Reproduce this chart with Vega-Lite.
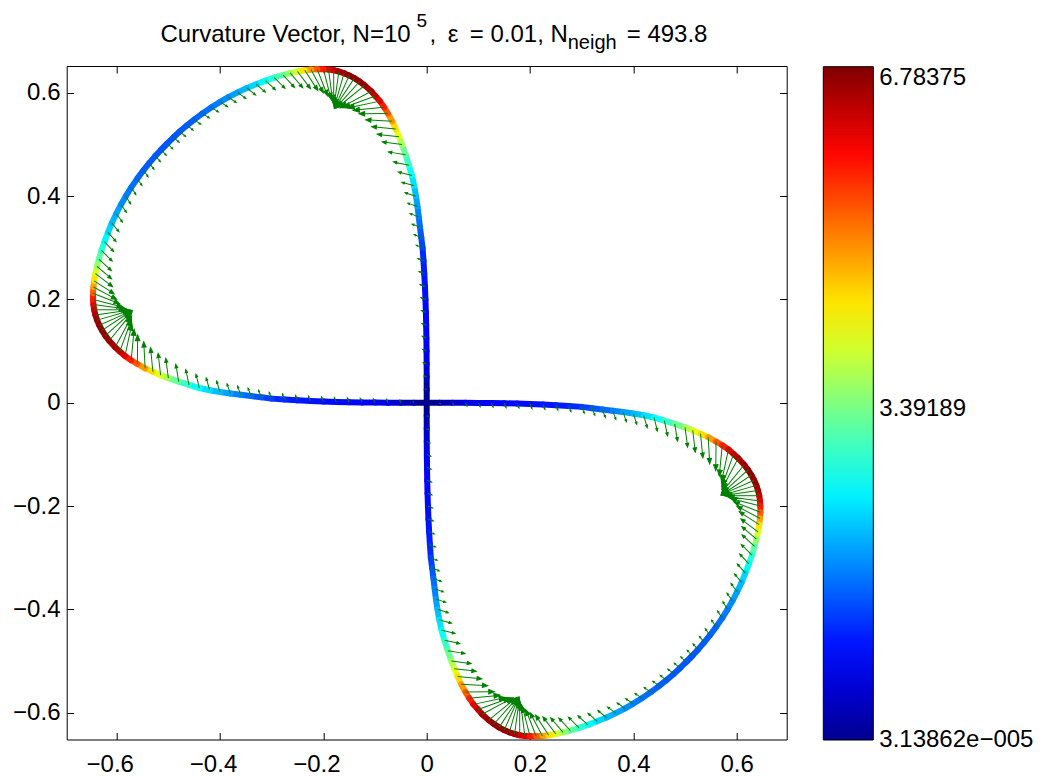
{
"$schema": "https://vega.github.io/schema/vega-lite/v6.json",
"width": 720, "height": 673.5,
"autosize": {"type": "none"},
"padding": {"left": 66.7, "top": 66, "right": 258.3, "bottom": 38.5},
"background": "white",
"config": {"view": {"stroke": null}, "font": "Liberation Sans"},
"data": {"values": [
{"x":0,"y":0,"x2":0,"y2":0.025,"k":0,"a":295},
{"x":0,"y":0.025,"x2":-0.00004,"y2":0.05,"k":0.25,"a":295},
{"x":-0.00004,"y":0.05,"x2":-0.0001,"y2":0.075,"k":0.5,"a":294.9},
{"x":-0.0001,"y":0.075,"x2":-0.0003,"y2":0.1,"k":0.7,"a":294.7},
{"x":-0.0003,"y":0.1,"x2":-0.0006,"y2":0.125,"k":0.82,"a":294.5},
{"x":-0.0006,"y":0.125,"x2":-0.001,"y2":0.15,"k":0.88,"a":294.2},
{"x":-0.001,"y":0.15,"x2":-0.0016,"y2":0.175,"k":0.9,"a":293.8},
{"x":-0.0016,"y":0.175,"x2":-0.0024,"y2":0.2,"k":0.92,"a":293.4},
{"x":-0.0024,"y":0.2,"x2":-0.0034,"y2":0.225,"k":0.95,"a":292.9},
{"x":-0.0034,"y":0.225,"x2":-0.0047,"y2":0.25,"k":1,"a":292.4},
{"x":-0.0047,"y":0.25,"x2":-0.0062,"y2":0.275,"k":1.05,"a":291.8},
{"x":-0.0062,"y":0.275,"x2":-0.008,"y2":0.3,"k":1.15,"a":291.5},
{"x":-0.008,"y":0.3,"x2":-0.0105,"y2":0.32,"k":1.3,"a":292},
{"x":-0.0105,"y":0.32,"x2":-0.013,"y2":0.34,"k":1.45,"a":291.8},
{"x":-0.013,"y":0.34,"x2":-0.0154,"y2":0.36,"k":1.6,"a":290.8},
{"x":-0.0154,"y":0.36,"x2":-0.0178,"y2":0.38,"k":1.75,"a":290},
{"x":-0.0178,"y":0.38,"x2":-0.0208,"y2":0.4,"k":1.95,"a":289},
{"x":-0.0208,"y":0.4,"x2":-0.0243,"y2":0.42,"k":2.15,"a":287.7},
{"x":-0.0243,"y":0.42,"x2":-0.0285,"y2":0.44,"k":2.4,"a":286},
{"x":-0.0285,"y":0.44,"x2":-0.0345,"y2":0.46,"k":2.65,"a":284},
{"x":-0.0345,"y":0.46,"x2":-0.0408,"y2":0.48,"k":2.95,"a":282},
{"x":-0.0408,"y":0.48,"x2":-0.0478,"y2":0.5,"k":3.3,"a":279.5},
{"x":-0.0478,"y":0.5,"x2":-0.0533,"y2":0.515,"k":3.75,"a":277.5},
{"x":-0.0533,"y":0.515,"x2":-0.06,"y2":0.53,"k":4.15,"a":276.5},
{"x":-0.06,"y":0.53,"x2":-0.0667,"y2":0.545,"k":4.55,"a":275.5},
{"x":-0.0667,"y":0.545,"x2":-0.0751,"y2":0.56,"k":5,"a":273},
{"x":-0.0751,"y":0.56,"x2":-0.0823,"y2":0.572,"k":5.45,"a":269.5},
{"x":-0.0823,"y":0.572,"x2":-0.0905,"y2":0.584,"k":5.85,"a":264.5},
{"x":-0.0905,"y":0.584,"x2":-0.0994,"y2":0.594,"k":6.2,"a":258},
{"x":-0.0994,"y":0.594,"x2":-0.1073,"y2":0.603,"k":6.45,"a":250},
{"x":-0.1073,"y":0.603,"x2":-0.12,"y2":0.6145,"k":6.6,"a":242},
{"x":-0.12,"y":0.6145,"x2":-0.13,"y2":0.622,"k":6.72,"a":231},
{"x":-0.13,"y":0.622,"x2":-0.14,"y2":0.6285,"k":6.78,"a":222},
{"x":-0.14,"y":0.6285,"x2":-0.15,"y2":0.6338,"k":6.78,"a":213.5},
{"x":-0.15,"y":0.6338,"x2":-0.16,"y2":0.6381,"k":6.75,"a":204},
{"x":-0.16,"y":0.6381,"x2":-0.17,"y2":0.6413,"k":6.7,"a":196},
{"x":-0.17,"y":0.6413,"x2":-0.18,"y2":0.6437,"k":6.6,"a":188},
{"x":-0.18,"y":0.6437,"x2":-0.19,"y2":0.6451,"k":6.4,"a":180},
{"x":-0.19,"y":0.6451,"x2":-0.2,"y2":0.6458,"k":6.15,"a":172.5},
{"x":-0.2,"y":0.6458,"x2":-0.212,"y2":0.6458,"k":5.85,"a":165.5},
{"x":-0.212,"y":0.6458,"x2":-0.224,"y2":0.6451,"k":5.4,"a":158.5},
{"x":-0.224,"y":0.6451,"x2":-0.236,"y2":0.6437,"k":4.95,"a":152},
{"x":-0.236,"y":0.6437,"x2":-0.25,"y2":0.6413,"k":4.5,"a":147},
{"x":-0.25,"y":0.6413,"x2":-0.264,"y2":0.6382,"k":4.05,"a":143},
{"x":-0.264,"y":0.6382,"x2":-0.278,"y2":0.6346,"k":3.6,"a":139.5},
{"x":-0.278,"y":0.6346,"x2":-0.295,"y2":0.6295,"k":3.2,"a":137.5},
{"x":-0.295,"y":0.6295,"x2":-0.312,"y2":0.6237,"k":2.85,"a":135},
{"x":-0.312,"y":0.6237,"x2":-0.33,"y2":0.6168,"k":2.55,"a":133},
{"x":-0.33,"y":0.6168,"x2":-0.348,"y2":0.6094,"k":2.3,"a":131},
{"x":-0.348,"y":0.6094,"x2":-0.366,"y2":0.6009,"k":2.1,"a":129},
{"x":-0.366,"y":0.6009,"x2":-0.384,"y2":0.5916,"k":1.95,"a":126.5},
{"x":-0.384,"y":0.5916,"x2":-0.4,"y2":0.5824,"k":1.8,"a":124},
{"x":-0.4,"y":0.5824,"x2":-0.417,"y2":0.5719,"k":1.7,"a":122},
{"x":-0.417,"y":0.5719,"x2":-0.434,"y2":0.5602,"k":1.62,"a":122.5},
{"x":-0.434,"y":0.5602,"x2":-0.45,"y2":0.5483,"k":1.55,"a":124},
{"x":-0.45,"y":0.5483,"x2":-0.464,"y2":0.5371,"k":1.5,"a":126},
{"x":-0.464,"y":0.5371,"x2":-0.478,"y2":0.5251,"k":1.47,"a":128},
{"x":-0.478,"y":0.5251,"x2":-0.49,"y2":0.514,"k":1.45,"a":130},
{"x":-0.49,"y":0.514,"x2":-0.502,"y2":0.502,"k":1.43,"a":132},
{"x":-0.502,"y":0.502,"x2":-0.514,"y2":0.49,"k":1.42,"a":135},
{"x":0,"y":0,"x2":-0.025,"y2":0,"k":0,"a":335},
{"x":-0.025,"y":0,"x2":-0.05,"y2":0.00004,"k":0.25,"a":335},
{"x":-0.05,"y":0.00004,"x2":-0.075,"y2":0.0001,"k":0.5,"a":335.1},
{"x":-0.075,"y":0.0001,"x2":-0.1,"y2":0.0003,"k":0.7,"a":335.3},
{"x":-0.1,"y":0.0003,"x2":-0.125,"y2":0.0006,"k":0.82,"a":335.5},
{"x":-0.125,"y":0.0006,"x2":-0.15,"y2":0.001,"k":0.88,"a":335.8},
{"x":-0.15,"y":0.001,"x2":-0.175,"y2":0.0016,"k":0.9,"a":336.2},
{"x":-0.175,"y":0.0016,"x2":-0.2,"y2":0.0024,"k":0.92,"a":336.6},
{"x":-0.2,"y":0.0024,"x2":-0.225,"y2":0.0034,"k":0.95,"a":337.1},
{"x":-0.225,"y":0.0034,"x2":-0.25,"y2":0.0047,"k":1,"a":337.6},
{"x":-0.25,"y":0.0047,"x2":-0.275,"y2":0.0062,"k":1.05,"a":338.2},
{"x":-0.275,"y":0.0062,"x2":-0.3,"y2":0.008,"k":1.15,"a":338.5},
{"x":-0.3,"y":0.008,"x2":-0.32,"y2":0.0105,"k":1.3,"a":338},
{"x":-0.32,"y":0.0105,"x2":-0.34,"y2":0.013,"k":1.45,"a":338.2},
{"x":-0.34,"y":0.013,"x2":-0.36,"y2":0.0154,"k":1.6,"a":339.2},
{"x":-0.36,"y":0.0154,"x2":-0.38,"y2":0.0178,"k":1.75,"a":340},
{"x":-0.38,"y":0.0178,"x2":-0.4,"y2":0.0208,"k":1.95,"a":341},
{"x":-0.4,"y":0.0208,"x2":-0.42,"y2":0.0243,"k":2.15,"a":342.3},
{"x":-0.42,"y":0.0243,"x2":-0.44,"y2":0.0285,"k":2.4,"a":344},
{"x":-0.44,"y":0.0285,"x2":-0.46,"y2":0.0345,"k":2.65,"a":346},
{"x":-0.46,"y":0.0345,"x2":-0.48,"y2":0.0408,"k":2.95,"a":348},
{"x":-0.48,"y":0.0408,"x2":-0.5,"y2":0.0478,"k":3.3,"a":350.5},
{"x":-0.5,"y":0.0478,"x2":-0.515,"y2":0.0533,"k":3.75,"a":352.5},
{"x":-0.515,"y":0.0533,"x2":-0.53,"y2":0.06,"k":4.15,"a":353.5},
{"x":-0.53,"y":0.06,"x2":-0.545,"y2":0.0667,"k":4.55,"a":354.5},
{"x":-0.545,"y":0.0667,"x2":-0.56,"y2":0.0751,"k":5,"a":357},
{"x":-0.56,"y":0.0751,"x2":-0.572,"y2":0.0823,"k":5.45,"a":0.5},
{"x":-0.572,"y":0.0823,"x2":-0.584,"y2":0.0905,"k":5.85,"a":5.5},
{"x":-0.584,"y":0.0905,"x2":-0.594,"y2":0.0994,"k":6.2,"a":12},
{"x":-0.594,"y":0.0994,"x2":-0.603,"y2":0.1073,"k":6.45,"a":20},
{"x":-0.603,"y":0.1073,"x2":-0.6145,"y2":0.12,"k":6.6,"a":28},
{"x":-0.6145,"y":0.12,"x2":-0.622,"y2":0.13,"k":6.72,"a":39},
{"x":-0.622,"y":0.13,"x2":-0.6285,"y2":0.14,"k":6.78,"a":48},
{"x":-0.6285,"y":0.14,"x2":-0.6338,"y2":0.15,"k":6.78,"a":56.5},
{"x":-0.6338,"y":0.15,"x2":-0.6381,"y2":0.16,"k":6.75,"a":66},
{"x":-0.6381,"y":0.16,"x2":-0.6413,"y2":0.17,"k":6.7,"a":74},
{"x":-0.6413,"y":0.17,"x2":-0.6437,"y2":0.18,"k":6.6,"a":82},
{"x":-0.6437,"y":0.18,"x2":-0.6451,"y2":0.19,"k":6.4,"a":90},
{"x":-0.6451,"y":0.19,"x2":-0.6458,"y2":0.2,"k":6.15,"a":97.5},
{"x":-0.6458,"y":0.2,"x2":-0.6458,"y2":0.212,"k":5.85,"a":104.5},
{"x":-0.6458,"y":0.212,"x2":-0.6451,"y2":0.224,"k":5.4,"a":111.5},
{"x":-0.6451,"y":0.224,"x2":-0.6437,"y2":0.236,"k":4.95,"a":118},
{"x":-0.6437,"y":0.236,"x2":-0.6413,"y2":0.25,"k":4.5,"a":123},
{"x":-0.6413,"y":0.25,"x2":-0.6382,"y2":0.264,"k":4.05,"a":127},
{"x":-0.6382,"y":0.264,"x2":-0.6346,"y2":0.278,"k":3.6,"a":130.5},
{"x":-0.6346,"y":0.278,"x2":-0.6295,"y2":0.295,"k":3.2,"a":132.5},
{"x":-0.6295,"y":0.295,"x2":-0.6237,"y2":0.312,"k":2.85,"a":135},
{"x":-0.6237,"y":0.312,"x2":-0.6168,"y2":0.33,"k":2.55,"a":137},
{"x":-0.6168,"y":0.33,"x2":-0.6094,"y2":0.348,"k":2.3,"a":139},
{"x":-0.6094,"y":0.348,"x2":-0.6009,"y2":0.366,"k":2.1,"a":141},
{"x":-0.6009,"y":0.366,"x2":-0.5916,"y2":0.384,"k":1.95,"a":143.5},
{"x":-0.5916,"y":0.384,"x2":-0.5824,"y2":0.4,"k":1.8,"a":146},
{"x":-0.5824,"y":0.4,"x2":-0.5719,"y2":0.417,"k":1.7,"a":148},
{"x":-0.5719,"y":0.417,"x2":-0.5602,"y2":0.434,"k":1.62,"a":147.5},
{"x":-0.5602,"y":0.434,"x2":-0.5483,"y2":0.45,"k":1.55,"a":146},
{"x":-0.5483,"y":0.45,"x2":-0.5371,"y2":0.464,"k":1.5,"a":144},
{"x":-0.5371,"y":0.464,"x2":-0.5251,"y2":0.478,"k":1.47,"a":142},
{"x":-0.5251,"y":0.478,"x2":-0.514,"y2":0.49,"k":1.45,"a":140},
{"x":-0.514,"y":0.49,"x2":-0.502,"y2":0.502,"k":1.43,"a":138},
{"x":0,"y":0,"x2":0,"y2":-0.025,"k":0,"a":115},
{"x":0,"y":-0.025,"x2":0.00004,"y2":-0.05,"k":0.25,"a":115},
{"x":0.00004,"y":-0.05,"x2":0.0001,"y2":-0.075,"k":0.5,"a":114.9},
{"x":0.0001,"y":-0.075,"x2":0.0003,"y2":-0.1,"k":0.7,"a":114.7},
{"x":0.0003,"y":-0.1,"x2":0.0006,"y2":-0.125,"k":0.82,"a":114.5},
{"x":0.0006,"y":-0.125,"x2":0.001,"y2":-0.15,"k":0.88,"a":114.2},
{"x":0.001,"y":-0.15,"x2":0.0016,"y2":-0.175,"k":0.9,"a":113.8},
{"x":0.0016,"y":-0.175,"x2":0.0024,"y2":-0.2,"k":0.92,"a":113.4},
{"x":0.0024,"y":-0.2,"x2":0.0034,"y2":-0.225,"k":0.95,"a":112.9},
{"x":0.0034,"y":-0.225,"x2":0.0047,"y2":-0.25,"k":1,"a":112.4},
{"x":0.0047,"y":-0.25,"x2":0.0062,"y2":-0.275,"k":1.05,"a":111.8},
{"x":0.0062,"y":-0.275,"x2":0.008,"y2":-0.3,"k":1.15,"a":111.5},
{"x":0.008,"y":-0.3,"x2":0.0105,"y2":-0.32,"k":1.3,"a":112},
{"x":0.0105,"y":-0.32,"x2":0.013,"y2":-0.34,"k":1.45,"a":111.8},
{"x":0.013,"y":-0.34,"x2":0.0154,"y2":-0.36,"k":1.6,"a":110.8},
{"x":0.0154,"y":-0.36,"x2":0.0178,"y2":-0.38,"k":1.75,"a":110},
{"x":0.0178,"y":-0.38,"x2":0.0208,"y2":-0.4,"k":1.95,"a":109},
{"x":0.0208,"y":-0.4,"x2":0.0243,"y2":-0.42,"k":2.15,"a":107.7},
{"x":0.0243,"y":-0.42,"x2":0.0285,"y2":-0.44,"k":2.4,"a":106},
{"x":0.0285,"y":-0.44,"x2":0.0345,"y2":-0.46,"k":2.65,"a":104},
{"x":0.0345,"y":-0.46,"x2":0.0408,"y2":-0.48,"k":2.95,"a":102},
{"x":0.0408,"y":-0.48,"x2":0.0478,"y2":-0.5,"k":3.3,"a":99.5},
{"x":0.0478,"y":-0.5,"x2":0.0533,"y2":-0.515,"k":3.75,"a":97.5},
{"x":0.0533,"y":-0.515,"x2":0.06,"y2":-0.53,"k":4.15,"a":96.5},
{"x":0.06,"y":-0.53,"x2":0.0667,"y2":-0.545,"k":4.55,"a":95.5},
{"x":0.0667,"y":-0.545,"x2":0.0751,"y2":-0.56,"k":5,"a":93},
{"x":0.0751,"y":-0.56,"x2":0.0823,"y2":-0.572,"k":5.45,"a":89.5},
{"x":0.0823,"y":-0.572,"x2":0.0905,"y2":-0.584,"k":5.85,"a":84.5},
{"x":0.0905,"y":-0.584,"x2":0.0994,"y2":-0.594,"k":6.2,"a":78},
{"x":0.0994,"y":-0.594,"x2":0.1073,"y2":-0.603,"k":6.45,"a":70},
{"x":0.1073,"y":-0.603,"x2":0.12,"y2":-0.6145,"k":6.6,"a":62},
{"x":0.12,"y":-0.6145,"x2":0.13,"y2":-0.622,"k":6.72,"a":51},
{"x":0.13,"y":-0.622,"x2":0.14,"y2":-0.6285,"k":6.78,"a":42},
{"x":0.14,"y":-0.6285,"x2":0.15,"y2":-0.6338,"k":6.78,"a":33.5},
{"x":0.15,"y":-0.6338,"x2":0.16,"y2":-0.6381,"k":6.75,"a":24},
{"x":0.16,"y":-0.6381,"x2":0.17,"y2":-0.6413,"k":6.7,"a":16},
{"x":0.17,"y":-0.6413,"x2":0.18,"y2":-0.6437,"k":6.6,"a":8},
{"x":0.18,"y":-0.6437,"x2":0.19,"y2":-0.6451,"k":6.4,"a":0},
{"x":0.19,"y":-0.6451,"x2":0.2,"y2":-0.6458,"k":6.15,"a":352.5},
{"x":0.2,"y":-0.6458,"x2":0.212,"y2":-0.6458,"k":5.85,"a":345.5},
{"x":0.212,"y":-0.6458,"x2":0.224,"y2":-0.6451,"k":5.4,"a":338.5},
{"x":0.224,"y":-0.6451,"x2":0.236,"y2":-0.6437,"k":4.95,"a":332},
{"x":0.236,"y":-0.6437,"x2":0.25,"y2":-0.6413,"k":4.5,"a":327},
{"x":0.25,"y":-0.6413,"x2":0.264,"y2":-0.6382,"k":4.05,"a":323},
{"x":0.264,"y":-0.6382,"x2":0.278,"y2":-0.6346,"k":3.6,"a":319.5},
{"x":0.278,"y":-0.6346,"x2":0.295,"y2":-0.6295,"k":3.2,"a":317.5},
{"x":0.295,"y":-0.6295,"x2":0.312,"y2":-0.6237,"k":2.85,"a":315},
{"x":0.312,"y":-0.6237,"x2":0.33,"y2":-0.6168,"k":2.55,"a":313},
{"x":0.33,"y":-0.6168,"x2":0.348,"y2":-0.6094,"k":2.3,"a":311},
{"x":0.348,"y":-0.6094,"x2":0.366,"y2":-0.6009,"k":2.1,"a":309},
{"x":0.366,"y":-0.6009,"x2":0.384,"y2":-0.5916,"k":1.95,"a":306.5},
{"x":0.384,"y":-0.5916,"x2":0.4,"y2":-0.5824,"k":1.8,"a":304},
{"x":0.4,"y":-0.5824,"x2":0.417,"y2":-0.5719,"k":1.7,"a":302},
{"x":0.417,"y":-0.5719,"x2":0.434,"y2":-0.5602,"k":1.62,"a":302.5},
{"x":0.434,"y":-0.5602,"x2":0.45,"y2":-0.5483,"k":1.55,"a":304},
{"x":0.45,"y":-0.5483,"x2":0.464,"y2":-0.5371,"k":1.5,"a":306},
{"x":0.464,"y":-0.5371,"x2":0.478,"y2":-0.5251,"k":1.47,"a":308},
{"x":0.478,"y":-0.5251,"x2":0.49,"y2":-0.514,"k":1.45,"a":310},
{"x":0.49,"y":-0.514,"x2":0.502,"y2":-0.502,"k":1.43,"a":312},
{"x":0.502,"y":-0.502,"x2":0.514,"y2":-0.49,"k":1.42,"a":315},
{"x":0,"y":0,"x2":0.025,"y2":0,"k":0,"a":155},
{"x":0.025,"y":0,"x2":0.05,"y2":-0.00004,"k":0.25,"a":155},
{"x":0.05,"y":-0.00004,"x2":0.075,"y2":-0.0001,"k":0.5,"a":155.1},
{"x":0.075,"y":-0.0001,"x2":0.1,"y2":-0.0003,"k":0.7,"a":155.3},
{"x":0.1,"y":-0.0003,"x2":0.125,"y2":-0.0006,"k":0.82,"a":155.5},
{"x":0.125,"y":-0.0006,"x2":0.15,"y2":-0.001,"k":0.88,"a":155.8},
{"x":0.15,"y":-0.001,"x2":0.175,"y2":-0.0016,"k":0.9,"a":156.2},
{"x":0.175,"y":-0.0016,"x2":0.2,"y2":-0.0024,"k":0.92,"a":156.6},
{"x":0.2,"y":-0.0024,"x2":0.225,"y2":-0.0034,"k":0.95,"a":157.1},
{"x":0.225,"y":-0.0034,"x2":0.25,"y2":-0.0047,"k":1,"a":157.6},
{"x":0.25,"y":-0.0047,"x2":0.275,"y2":-0.0062,"k":1.05,"a":158.2},
{"x":0.275,"y":-0.0062,"x2":0.3,"y2":-0.008,"k":1.15,"a":158.5},
{"x":0.3,"y":-0.008,"x2":0.32,"y2":-0.0105,"k":1.3,"a":158},
{"x":0.32,"y":-0.0105,"x2":0.34,"y2":-0.013,"k":1.45,"a":158.2},
{"x":0.34,"y":-0.013,"x2":0.36,"y2":-0.0154,"k":1.6,"a":159.2},
{"x":0.36,"y":-0.0154,"x2":0.38,"y2":-0.0178,"k":1.75,"a":160},
{"x":0.38,"y":-0.0178,"x2":0.4,"y2":-0.0208,"k":1.95,"a":161},
{"x":0.4,"y":-0.0208,"x2":0.42,"y2":-0.0243,"k":2.15,"a":162.3},
{"x":0.42,"y":-0.0243,"x2":0.44,"y2":-0.0285,"k":2.4,"a":164},
{"x":0.44,"y":-0.0285,"x2":0.46,"y2":-0.0345,"k":2.65,"a":166},
{"x":0.46,"y":-0.0345,"x2":0.48,"y2":-0.0408,"k":2.95,"a":168},
{"x":0.48,"y":-0.0408,"x2":0.5,"y2":-0.0478,"k":3.3,"a":170.5},
{"x":0.5,"y":-0.0478,"x2":0.515,"y2":-0.0533,"k":3.75,"a":172.5},
{"x":0.515,"y":-0.0533,"x2":0.53,"y2":-0.06,"k":4.15,"a":173.5},
{"x":0.53,"y":-0.06,"x2":0.545,"y2":-0.0667,"k":4.55,"a":174.5},
{"x":0.545,"y":-0.0667,"x2":0.56,"y2":-0.0751,"k":5,"a":177},
{"x":0.56,"y":-0.0751,"x2":0.572,"y2":-0.0823,"k":5.45,"a":180.5},
{"x":0.572,"y":-0.0823,"x2":0.584,"y2":-0.0905,"k":5.85,"a":185.5},
{"x":0.584,"y":-0.0905,"x2":0.594,"y2":-0.0994,"k":6.2,"a":192},
{"x":0.594,"y":-0.0994,"x2":0.603,"y2":-0.1073,"k":6.45,"a":200},
{"x":0.603,"y":-0.1073,"x2":0.6145,"y2":-0.12,"k":6.6,"a":208},
{"x":0.6145,"y":-0.12,"x2":0.622,"y2":-0.13,"k":6.72,"a":219},
{"x":0.622,"y":-0.13,"x2":0.6285,"y2":-0.14,"k":6.78,"a":228},
{"x":0.6285,"y":-0.14,"x2":0.6338,"y2":-0.15,"k":6.78,"a":236.5},
{"x":0.6338,"y":-0.15,"x2":0.6381,"y2":-0.16,"k":6.75,"a":246},
{"x":0.6381,"y":-0.16,"x2":0.6413,"y2":-0.17,"k":6.7,"a":254},
{"x":0.6413,"y":-0.17,"x2":0.6437,"y2":-0.18,"k":6.6,"a":262},
{"x":0.6437,"y":-0.18,"x2":0.6451,"y2":-0.19,"k":6.4,"a":270},
{"x":0.6451,"y":-0.19,"x2":0.6458,"y2":-0.2,"k":6.15,"a":277.5},
{"x":0.6458,"y":-0.2,"x2":0.6458,"y2":-0.212,"k":5.85,"a":284.5},
{"x":0.6458,"y":-0.212,"x2":0.6451,"y2":-0.224,"k":5.4,"a":291.5},
{"x":0.6451,"y":-0.224,"x2":0.6437,"y2":-0.236,"k":4.95,"a":298},
{"x":0.6437,"y":-0.236,"x2":0.6413,"y2":-0.25,"k":4.5,"a":303},
{"x":0.6413,"y":-0.25,"x2":0.6382,"y2":-0.264,"k":4.05,"a":307},
{"x":0.6382,"y":-0.264,"x2":0.6346,"y2":-0.278,"k":3.6,"a":310.5},
{"x":0.6346,"y":-0.278,"x2":0.6295,"y2":-0.295,"k":3.2,"a":312.5},
{"x":0.6295,"y":-0.295,"x2":0.6237,"y2":-0.312,"k":2.85,"a":315},
{"x":0.6237,"y":-0.312,"x2":0.6168,"y2":-0.33,"k":2.55,"a":317},
{"x":0.6168,"y":-0.33,"x2":0.6094,"y2":-0.348,"k":2.3,"a":319},
{"x":0.6094,"y":-0.348,"x2":0.6009,"y2":-0.366,"k":2.1,"a":321},
{"x":0.6009,"y":-0.366,"x2":0.5916,"y2":-0.384,"k":1.95,"a":323.5},
{"x":0.5916,"y":-0.384,"x2":0.5824,"y2":-0.4,"k":1.8,"a":326},
{"x":0.5824,"y":-0.4,"x2":0.5719,"y2":-0.417,"k":1.7,"a":328},
{"x":0.5719,"y":-0.417,"x2":0.5602,"y2":-0.434,"k":1.62,"a":327.5},
{"x":0.5602,"y":-0.434,"x2":0.5483,"y2":-0.45,"k":1.55,"a":326},
{"x":0.5483,"y":-0.45,"x2":0.5371,"y2":-0.464,"k":1.5,"a":324},
{"x":0.5371,"y":-0.464,"x2":0.5251,"y2":-0.478,"k":1.47,"a":322},
{"x":0.5251,"y":-0.478,"x2":0.514,"y2":-0.49,"k":1.45,"a":320},
{"x":0.514,"y":-0.49,"x2":0.502,"y2":-0.502,"k":1.43,"a":318}
]},
"layer": [
{
"mark": {"type": "rule", "strokeWidth": 6, "strokeCap": "round"},
"encoding": {
"x": {"field": "x", "type": "quantitative", "scale": {"domain": [-0.6968, 0.6968], "nice": false, "zero": false},
 "axis": {"orient": "bottom", "values": [-0.6,-0.4,-0.2,0,0.2,0.4,0.6], "format": ".1~f", "grid": false, "tickSize": -7, "tickColor": "black", "tickWidth": 1, "domainColor": "black", "domainWidth": 1, "labelFont": "Liberation Sans", "labelFontSize": 24, "labelColor": "black", "labelPadding": 19.5, "labelFlush": false, "labelOverlap": false,
  "labelOffset": {"condition": {"test": "datum.value < 0", "value": -7}, "value": 0},
  "title": ",\u00a0\u2009ε\u2009\u00a0=\u00a00.01,\u00a0N", "titleX": 362.3, "titleY": -697.8, "titleAlign": "left", "titleAngle": 0, "titleBaseline": "alphabetic", "titleFont": "Liberation Sans", "titleFontSize": 24, "titleFontWeight": "normal", "titleColor": "black"}},
"y": {"field": "y", "type": "quantitative", "scale": {"domain": [-0.652, 0.652], "nice": false, "zero": false},
 "axis": {"orient": "left", "values": [-0.6,-0.4,-0.2,0,0.2,0.4,0.6], "format": ".1~f", "grid": false, "tickSize": -7, "tickColor": "black", "tickWidth": 1, "domainColor": "black", "domainWidth": 1, "labelFont": "Liberation Sans", "labelFontSize": 24, "labelColor": "black", "labelPadding": 13.7, "labelFlush": false, "labelOverlap": false,
  "title": "neigh", "titleAngle": 0, "titleX": 525, "titleY": -17.7, "titleAlign": "center", "titleBaseline": "alphabetic", "titleFont": "Liberation Sans", "titleFontSize": 20, "titleFontWeight": "normal", "titleColor": "black"}},
"x2": {"field": "x2"},
"y2": {"field": "y2"},
"color": {"field": "k", "type": "quantitative",
 "scale": {"domain": [0, 0.8625, 2.5875, 4.3125, 6.0375, 6.9], "range": ["#00008f", "#0000ff", "#00ffff", "#ffff00", "#ff0000", "#800000"], "interpolate": "rgb"},
 "legend": {"type": "gradient", "direction": "vertical", "orient": "none", "legendX": 756.6, "legendY": 0.7, "padding": 0, "offset": 0, "gradientLength": 673.3, "gradientThickness": 50, "gradientStrokeColor": "black", "gradientStrokeWidth": 1, "title": null, "values": [0.0000313862, 3.39189, 6.78375], "labelExpr": "datum.value < 0.01 ? '3.13862e−005' : format(datum.value, '.6~g')", "labelFont": "Liberation Sans", "labelFontSize": 24, "labelColor": "black", "labelOffset": 6, "labelOverlap": false}}
}
},
{
"mark": {"type": "point", "shape": "M0,0L0,-1.7M-0.16,-1.6L0,-2L0.16,-1.6Z", "filled": true, "fill": "#008000", "stroke": "#008000", "strokeWidth": 1, "opacity": 1},
"encoding": {
"x": {"field": "x", "type": "quantitative", "scale": {"domain": [-0.6968, 0.6968], "nice": false, "zero": false},
 "axis": {"orient": "top", "values": [-0.6,-0.4,-0.2,0,0.2,0.4,0.6], "labels": false, "grid": false, "tickSize": -7, "tickColor": "black", "tickWidth": 1, "domainColor": "black", "domainWidth": 1,
  "title": "Curvature Vector, N=10", "titleX": 93.3, "titleY": -24.3, "titleAlign": "left", "titleAngle": 0, "titleBaseline": "alphabetic", "titleFont": "Liberation Sans", "titleFontSize": 24, "titleFontWeight": "normal", "titleColor": "black"}},
"y": {"field": "y", "type": "quantitative", "scale": {"domain": [-0.652, 0.652], "nice": false, "zero": false},
 "axis": {"orient": "right", "values": [-0.6,-0.4,-0.2,0,0.2,0.4,0.6], "labels": false, "grid": false, "tickSize": -7, "tickColor": "black", "tickWidth": 1, "domainColor": "black", "domainWidth": 1,
  "title": "5", "titleX": -365.5, "titleY": -39.3, "titleAngle": 0, "titleAlign": "center", "titleBaseline": "alphabetic", "titleFont": "Liberation Sans", "titleFontSize": 19, "titleFontWeight": "normal", "titleColor": "black"}},
"size": {"field": "k", "type": "quantitative", "scale": {"type": "pow", "exponent": 2, "domain": [0, 6.9], "range": [0, 1350]},
 "legend": {"orient": "none", "legendX": 560, "legendY": -24.3, "padding": 0, "offset": 0, "values": [0], "labelExpr": "''", "symbolOpacity": 0, "symbolStrokeWidth": 0,
  "title": "= 493.8", "titleAlign": "left", "titleBaseline": "alphabetic", "titlePadding": 0, "titleFont": "Liberation Sans", "titleFontSize": 24, "titleFontWeight": "normal", "titleColor": "black"}},
"angle": {"field": "a", "type": "quantitative", "scale": {"domain": [0, 360], "range": [0, 360]}}
}
}
],
"resolve": {"axis": {"x": "independent", "y": "independent"}}
}
